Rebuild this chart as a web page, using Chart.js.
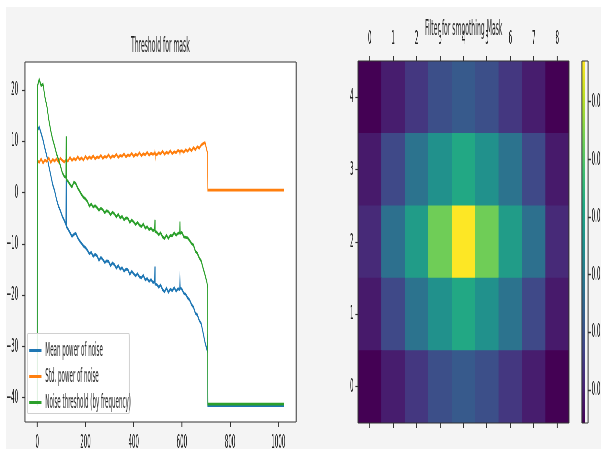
<!DOCTYPE html>
<html>
<head>
<meta charset="utf-8">
<script src="https://cdn.jsdelivr.net/npm/chart.js@4"></script>
<style>
  body { margin: 0; width: 601px; height: 459px; overflow: hidden; background: #fff; }
  #panel { position: absolute; left: 6px; top: 7px; width: 595px; height: 442px; background: #f4f4f4; }
  /* the reference is squeezed sideways, so draw wide and squeeze */
  #stage { position: absolute; left: 0; top: 0; width: 1855px; height: 459px;
           transform: scaleX(0.324); transform-origin: 0 0;
           font-family: 'DejaVu Sans Condensed', 'DejaVu Sans', sans-serif; color: #222; }
  .box { position: absolute; top: 0; height: 459px; }
  .title { position: absolute; font-size: 21px; white-space: nowrap; transform: translate(-50%, -50%); }
  #legend { position: absolute; left: 83px; top: 333px; width: 318px; height: 81px; box-sizing: border-box;
            border: 1px solid #d0d0d0; border-left-width: 3px; border-right-width: 3px;
            border-radius: 4px; background: rgba(255,255,255,0.85); }
  .entry { position: absolute; left: 4px; height: 20px; font-size: 19px; line-height: 20px; white-space: nowrap; }
  .entry i { display: inline-block; width: 38px; height: 3px; vertical-align: middle; margin-right: 12px; }
</style>
</head>
<body>
<div id="panel"></div>
<div id="stage">
  <div class="title" style="left:495px; top:45px;">Threshold for mask</div>
  <div class="title" style="left:1431px; top:28px;">Filter for smoothing Mask</div>
  <div class="box" style="left:0; width:960px;"><canvas id="lineChart"></canvas></div>
  <div class="box" style="left:1040px; width:760px;"><canvas id="heatChart"></canvas></div>
  <div class="box" style="left:1770px; width:200px;"><canvas id="barChart"></canvas></div>
  <div id="legend">
    <div class="entry" style="top:5px;"><i style="background:#1f77b4"></i>Mean power of noise</div>
    <div class="entry" style="top:31px;"><i style="background:#ff7f0e"></i>Std. power of noise</div>
    <div class="entry" style="top:57px;"><i style="background:#2ca02c"></i>Noise threshold (by frequency)</div>
  </div>
</div>
<script>
// frequency bin index
const xs = [0, 1, 8, 16, 24, 32, 40, 48, 56, 64,
  72, 80, 88, 96, 104, 112,
  119, 120, 121,
  128, 136, 144, 152, 160, 168, 176, 184, 192, 200,
  208, 216, 224, 232, 240, 248, 256, 264, 272, 280, 288, 296, 304, 312, 320, 328, 336, 344,
  352, 360, 368, 376, 384, 392, 400, 408, 416, 424, 432, 440, 448, 456, 464, 472, 480,
  487, 488, 489,
  496, 504, 512, 520, 528, 536, 544, 552, 560, 568, 576, 584,
  591, 592, 593,
  600, 608, 616, 624, 632, 640, 648, 656, 664, 672, 680, 688, 696, 704,
  707, 708, 1023];

const meanPower = [-41.5, 12.2, 12.8, 11.6, 10.3, 8.6, 7.1, 5.2, 3.4, 1.6,
  0.4, -1.3, -2.6, -3.5, -4.6, -5.4,
  -6.2, 3.0, -6.6,
  -7.1, -7.8, -8.5, -8.1, -7.9, -8.8, -9.4, -9.9, -10.4, -10.7,
  -11.2, -11.9, -11.6, -12.4, -12.0, -12.3, -13.2, -12.6, -13.0, -13.6, -13.3, -13.4, -14.2, -13.7, -14.0, -14.7, -14.2, -14.9,
  -14.6, -15.3, -14.9, -15.0, -15.9, -15.3, -15.8, -16.2, -15.8, -16.4, -16.6, -16.1, -17.0, -16.7, -17.3, -16.9, -17.5,
  -17.4, -14.4, -17.8,
  -17.9, -18.4, -18.0, -18.9, -19.3, -18.6, -19.4, -18.8, -19.1, -18.5, -19.2, -18.7,
  -18.9, -17.3, -18.6,
  -18.8, -19.6, -19.8, -20.5, -20.9, -21.8, -22.3, -23.5, -23.8, -24.9, -25.5, -27.3, -29.2, -30.6,
  -27.6, -41.5, -41.5];

const stdPower = [6.0, 6.3, 5.9, 6.6, 5.8, 6.4, 6.1, 6.8, 5.9, 6.5,
  6.2, 6.6, 6.0, 6.7, 6.3, 6.0,
  6.4, 6.6, 6.2,
  6.2, 6.9, 6.3, 6.7, 6.4, 7.0, 6.5, 6.8, 6.4, 7.1,
  6.6, 7.0, 6.7, 7.2, 6.6, 7.0, 6.8, 7.3, 6.7, 7.1, 6.9, 7.4, 6.8, 7.2, 7.0, 7.5, 6.9, 7.3,
  7.1, 7.6, 7.0, 7.4, 7.2, 7.7, 7.1, 7.5, 7.3, 7.8, 7.2, 7.6, 7.4, 7.9, 7.3, 7.7, 7.5,
  7.7, 8.0, 7.6,
  7.4, 7.8, 7.6, 8.1, 7.5, 7.9, 7.7, 8.2, 7.6, 8.0, 7.8, 8.3,
  8.0, 7.7, 8.1,
  8.2, 7.9, 8.4, 8.1, 8.6, 8.2, 8.8, 8.4, 9.0, 8.7, 9.3, 9.6, 9.8, 8.2,
  7.6, 0.5, 0.5];

const threshold = [-41.5, 20.8, 22.1, 20.9, 21.2, 18.6, 16.9, 14.2, 12.1, 10.4,
  9.1, 7.6, 6.5, 5.3, 3.9, 3.2,
  3.0, 11.0, 2.6,
  2.2, 1.6, 1.1, 2.1, 1.8, 0.9, 0.3, -0.4, -0.9, -1.2,
  -1.7, -2.6, -2.2, -2.8, -2.5, -2.9, -3.4, -3.0, -3.3, -3.9, -3.5, -3.7, -4.3, -3.8, -4.1, -4.7, -4.2, -4.9,
  -4.6, -5.3, -4.9, -5.0, -5.8, -5.3, -5.7, -6.2, -5.8, -6.3, -6.6, -6.1, -6.9, -6.6, -7.2, -6.9, -7.4,
  -7.2, -5.3, -7.5,
  -7.7, -8.2, -7.8, -8.6, -8.9, -8.3, -8.9, -8.3, -8.4, -7.8, -8.3, -7.9,
  -7.8, -5.6, -7.9,
  -7.7, -8.6, -8.7, -8.8, -9.3, -9.9, -10.2, -11.4, -11.8, -12.7, -13.3, -14.7, -16.0, -17.5,
  -18.6, -41.2, -41.2];

const lineXTicks = [0, 200, 400, 600, 800, 1000];
const lineYTicks = [-40, -30, -20, -10, 0, 10, 20];

// 5 x 9 smoothing filter, row 0 at the bottom
const filterCols = ['0', '1', '2', '3', '4', '5', '6', '7', '8'];
const filterRows = [0, 1, 2, 3, 4];
const filter0 = [0.0043, 0.0093, 0.0144, 0.0194, 0.0219, 0.0194, 0.0144, 0.0093, 0.0043];
const filter1 = [0.0087, 0.0181, 0.0282, 0.0357, 0.0420, 0.0357, 0.0282, 0.0181, 0.0087];
const filter2 = [0.0118, 0.0275, 0.0388, 0.0533, 0.0671, 0.0533, 0.0388, 0.0275, 0.0118];
const filter3 = [0.0087, 0.0181, 0.0282, 0.0357, 0.0420, 0.0357, 0.0282, 0.0181, 0.0087];
const filter4 = [0.0043, 0.0093, 0.0144, 0.0194, 0.0219, 0.0194, 0.0144, 0.0093, 0.0043];
const colorbarTicks = [0.01, 0.02, 0.03, 0.04, 0.05, 0.06];

const viridis = ['#440154', '#482475', '#414487', '#355f8d', '#2a788e', '#21918c',
  '#22a884', '#44bf70', '#7ad151', '#bddf26', '#fde725'];

function hexRgb(h) {
  return [1, 3, 5].map(i => parseInt(h.slice(i, i + 2), 16));
}
function viridisColor(t) {
  t = Math.max(0, Math.min(1, t)) * 10;
  const i = Math.min(9, Math.floor(t)), f = t - i;
  const a = hexRgb(viridis[i]), b = hexRgb(viridis[i + 1]);
  const c = a.map((v, k) => Math.round(v + (b[k] - v) * f));
  return `rgb(${c[0]},${c[1]},${c[2]})`;
}

Chart.defaults.font.family = "'DejaVu Sans Condensed', 'DejaVu Sans', sans-serif";
Chart.defaults.font.size = 19;
Chart.defaults.color = '#222';
Chart.defaults.animation = false;

// spines + white axes background
const frame = {
  id: 'frame',
  beforeDraw(chart, args, opts) {
    const a = chart.chartArea, ctx = chart.ctx;
    if (opts.fill) {
      ctx.save();
      ctx.fillStyle = opts.fill;
      ctx.fillRect(a.left, a.top, a.right - a.left, a.bottom - a.top);
      ctx.restore();
    }
  },
  afterDraw(chart, args, opts) {
    const a = chart.chartArea, ctx = chart.ctx;
    ctx.save();
    ctx.strokeStyle = opts.color || '#333';
    ctx.lineWidth = 1.2;
    ctx.beginPath();
    ctx.moveTo(a.left, a.top); ctx.lineTo(a.right, a.top);
    ctx.moveTo(a.left, a.bottom); ctx.lineTo(a.right, a.bottom);
    ctx.stroke();
    ctx.lineWidth = 3;
    ctx.beginPath();
    ctx.moveTo(a.left, a.top); ctx.lineTo(a.left, a.bottom);
    ctx.moveTo(a.right, a.top); ctx.lineTo(a.right, a.bottom);
    ctx.stroke();
    ctx.restore();
  }
};

function series(ys) {
  return xs.map((x, i) => ({ x: x, y: ys[i] }));
}
function minus(v) {
  return String(v).replace('-', '\u2212');
}

window.onload = function () {
  // left: noise threshold lines
  new Chart(document.getElementById('lineChart'), {
    type: 'line',
    data: {
      datasets: [
        { label: 'Mean power of noise', data: series(meanPower), borderColor: '#1f77b4', order: 3 },
        { label: 'Std. power of noise', data: series(stdPower), borderColor: '#ff7f0e', order: 2 },
        { label: 'Noise threshold (by frequency)', data: series(threshold), borderColor: '#2ca02c', order: 1 }
      ]
    },
    options: {
      responsive: true,
      maintainAspectRatio: false,
      layout: { padding: { left: 0, top: 62, right: 46, bottom: 0 } },
      elements: { point: { radius: 0 }, line: { borderWidth: 2.8, tension: 0 } },
      plugins: { legend: { display: false }, tooltip: { enabled: false }, frame: { fill: '#fff' } },
      scales: {
        x: {
          type: 'linear', min: -51, max: 1074,
          afterBuildTicks: s => { s.ticks = lineXTicks.map(v => ({ value: v })); },
          afterFit: s => { s.height = 37; },
          grid: { drawOnChartArea: false, tickLength: 5, tickColor: '#333', tickWidth: 3 },
          border: { display: false },
          ticks: { padding: 5, maxRotation: 0, callback: v => String(v) }
        },
        y: {
          type: 'linear', min: -44.7, max: 25.5,
          afterBuildTicks: s => { s.ticks = lineYTicks.map(v => ({ value: v })); },
          afterFit: s => { s.width = 77; },
          grid: { drawOnChartArea: false, tickLength: 9, tickColor: '#333', tickWidth: 1.2 },
          border: { display: false },
          ticks: { padding: 12, callback: v => minus(v) }
        }
      }
    },
    plugins: [frame]
  });

  // middle: filter heatmap
  const rowsData = [filter0, filter1, filter2, filter3, filter4];
  const all = rowsData.flat();
  const vmin = Math.min(...all), vmax = Math.max(...all);
  new Chart(document.getElementById('heatChart'), {
    type: 'bar',
    data: {
      labels: filterCols,
      datasets: filterRows.map(r => ({
        label: 'row ' + r,
        data: filterCols.map(() => [r - 0.5, r + 0.5]),
        backgroundColor: rowsData[r].map(v => viridisColor((v - vmin) / (vmax - vmin))),
        borderWidth: 0,
        grouped: false,
        barPercentage: 1,
        categoryPercentage: 1
      }))
    },
    options: {
      responsive: true,
      maintainAspectRatio: false,
      layout: { padding: { left: 0, top: 30, right: 44, bottom: 0 } },
      plugins: { legend: { display: false }, tooltip: { enabled: false }, frame: {} },
      scales: {
        x: {
          type: 'category', position: 'top', offset: true,
          afterFit: s => { s.height = 31; },
          grid: { drawOnChartArea: false, offset: false, tickLength: 5, tickColor: '#333', tickWidth: 3 },
          border: { display: false },
          ticks: { padding: 6, maxRotation: 0 }
        },
        xb: {
          type: 'category', position: 'bottom', offset: true,
          afterFit: s => { s.height = 36; },
          grid: { drawOnChartArea: false, offset: false, tickLength: 5, tickColor: '#333', tickWidth: 3 },
          border: { display: false },
          ticks: { color: 'rgba(0,0,0,0)', maxRotation: 0 }
        },
        y: {
          type: 'linear', min: -0.5, max: 4.5,
          afterBuildTicks: s => { s.ticks = filterRows.map(v => ({ value: v })); },
          afterFit: s => { s.width = 65; },
          grid: { drawOnChartArea: false, tickLength: 8, tickColor: '#333', tickWidth: 1.2 },
          border: { display: false },
          ticks: { padding: 6 }
        }
      }
    },
    plugins: [frame]
  });

  // right: colorbar
  new Chart(document.getElementById('barChart'), {
    type: 'bar',
    data: {
      labels: ['cbar'],
      datasets: [{
        data: [[vmin, vmax]],
        borderWidth: 0,
        barPercentage: 1,
        categoryPercentage: 1,
        backgroundColor: c => {
          const a = c.chart.chartArea;
          if (!a) return 'rgba(0,0,0,0)';
          const g = c.chart.ctx.createLinearGradient(0, a.bottom, 0, a.top);
          viridis.forEach((col, i) => g.addColorStop(i / 10, col));
          return g;
        }
      }]
    },
    options: {
      responsive: true,
      maintainAspectRatio: false,
      layout: { padding: { left: 26, top: 61, right: 0, bottom: 36 } },
      plugins: { legend: { display: false }, tooltip: { enabled: false }, frame: {} },
      scales: {
        x: { display: false, offset: false },
        y: {
          type: 'linear', position: 'right', min: vmin, max: vmax,
          afterBuildTicks: s => { s.ticks = colorbarTicks.map(v => ({ value: v })); },
          afterFit: s => { s.width = 155; },
          grid: { drawOnChartArea: false, tickLength: 8, tickColor: '#333', tickWidth: 1.5 },
          border: { display: false },
          ticks: { padding: 3, callback: v => v.toFixed(2) }
        }
      }
    },
    plugins: [frame]
  });
};
</script>
</body>
</html>
